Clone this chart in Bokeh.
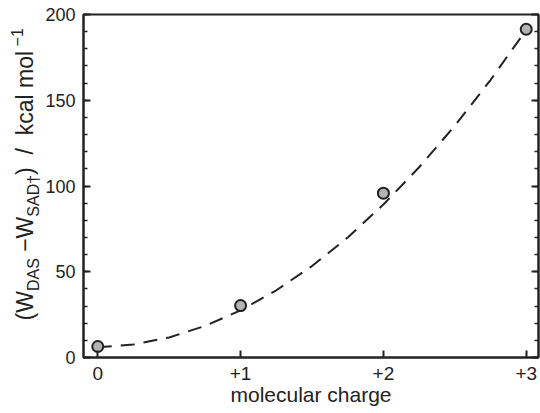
from bokeh.plotting import figure
from bokeh.layouts import row
from bokeh.models import (Range1d, LinearAxis, SingleIntervalTicker, FixedTicker,
                          Label, CustomJSTickFormatter, ColumnDataSource)
from bokeh.embed import file_html
from bokeh.resources import INLINE
from math import pi

# ---- data ----
charges = [0, 1, 2, 3]
charge_labels = ["0", "+1", "+2", "+3"]
energy = [6.4, 30.3, 95.8, 191.4]          # W_DAS - W_SAD† (kcal/mol)
fit_x = [0, 0.25, 0.5, 0.75, 1.0, 1.25, 1.5, 1.75, 2.0, 2.25, 2.5, 2.75, 3.0]
fit_y = [6.0, 7.6, 11.7, 18.4, 27.5, 39.2, 53.3, 70.0, 89.2, 110.9, 135.1, 161.8, 191.0]

FONT = "Liberation Sans"
INK = "#222222"
NB = "\u00a0"

H = 413
LW = 42          # width of the strip holding the y-axis title
MW = 540 - LW    # width of the main plot

p = figure(width=MW, height=H, x_range=Range1d(-0.1, 3.086), y_range=Range1d(0, 200),
           output_backend="svg", toolbar_location=None, frame_align=False, margin=0,
           min_border_left=83 - LW, min_border_top=14, min_border_right=2, min_border_bottom=56)
p.grid.visible = False
p.outline_line_color = INK
p.outline_line_width = 2
p.background_fill_color = "white"
p.border_fill_color = "white"

# bottom axis
xa = p.xaxis[0]
xa.ticker = FixedTicker(ticks=charges)
xa.major_label_overrides = {c: l for c, l in zip(charges, charge_labels)}
xa.major_tick_in = 7
xa.major_tick_out = 0
xa.minor_tick_in = 0
xa.minor_tick_out = 0
xa.axis_line_width = 2
xa.axis_line_color = INK
xa.major_tick_line_width = 2
xa.major_tick_line_color = INK
xa.major_label_text_font = FONT
xa.major_label_text_font_size = "19px"
xa.major_label_text_color = INK
xa.major_label_standoff = 9
xa.axis_label = "molecular charge"
xa.axis_label_text_font = FONT
xa.axis_label_text_font_size = "21px"
xa.axis_label_text_font_style = "normal"
xa.axis_label_text_color = INK
xa.axis_label_standoff = 0

# left axis
ya = p.yaxis[0]
ya.ticker = SingleIntervalTicker(interval=50, num_minor_ticks=5)
ya.major_tick_in = 7
ya.major_tick_out = 0
ya.minor_tick_in = 4
ya.minor_tick_out = 0
ya.axis_line_width = 2
ya.axis_line_color = INK
ya.major_tick_line_width = 2
ya.minor_tick_line_width = 1.5
ya.major_tick_line_color = INK
ya.minor_tick_line_color = INK
ya.major_label_text_font = FONT
ya.major_label_text_font_size = "18px"
ya.major_label_text_color = INK
ya.major_label_standoff = 8

# right axis (ticks only)
ra = LinearAxis(ticker=SingleIntervalTicker(interval=50, num_minor_ticks=5),
                formatter=CustomJSTickFormatter(code="return ''"),
                major_tick_in=7, major_tick_out=0, minor_tick_in=4, minor_tick_out=0,
                axis_line_width=2, axis_line_color=INK,
                major_tick_line_width=2, minor_tick_line_width=1.5,
                major_tick_line_color=INK, minor_tick_line_color=INK,
                major_label_standoff=0)
p.add_layout(ra, "right")

# fitted dashed curve
p.line(fit_x, fit_y, line_color=INK, line_width=2, line_dash="14 9")
# points
src = ColumnDataSource(dict(x=charges, y=energy))
p.scatter("x", "y", source=src, size=11, fill_color="#b3b3b3",
          line_color=INK, line_width=2)

# strip with the y-axis title (subscripts / superscript built from pieces)
t = figure(width=LW, height=H, x_range=Range1d(0, 1), y_range=Range1d(0, 1),
           output_backend="svg", toolbar_location=None, frame_align=False, margin=0,
           x_axis_location=None, y_axis_location=None, min_border=0,
           min_border_left=0, min_border_right=0, min_border_top=0, min_border_bottom=0)
t.grid.visible = False
t.outline_line_color = None
t.background_fill_color = "white"
t.border_fill_color = "white"

MAIN, SUB = 23, 16
xb_main, xb_sub, xb_sup = 24, 33, 17
pieces = [("(W", MAIN, xb_main, 29.4),
          ("DAS", SUB, xb_sub, 32.9),
          (NB + "\u2212W", MAIN, xb_main, 41.5),
          ("SAD\u2020", SUB, xb_sub, 41.8),
          (")" + NB * 2 + "/" + NB * 2 + "kcal" + NB + "mol", MAIN, xb_main, 124.0),
          (NB + "\u22121", SUB, xb_sup, 22.7)]
ypos = H - 320
for txt, fs, xb, ln in pieces:
    t.add_layout(Label(x=xb, y=ypos, x_units="screen", y_units="screen", angle=pi / 2,
                       text=txt, text_font=FONT, text_font_size=f"{fs}px",
                       text_color=INK, text_align="left", text_baseline="alphabetic"))
    ypos += ln

layout = row(t, p, spacing=0)
open("out.html", "w").write(file_html(layout, INLINE))
